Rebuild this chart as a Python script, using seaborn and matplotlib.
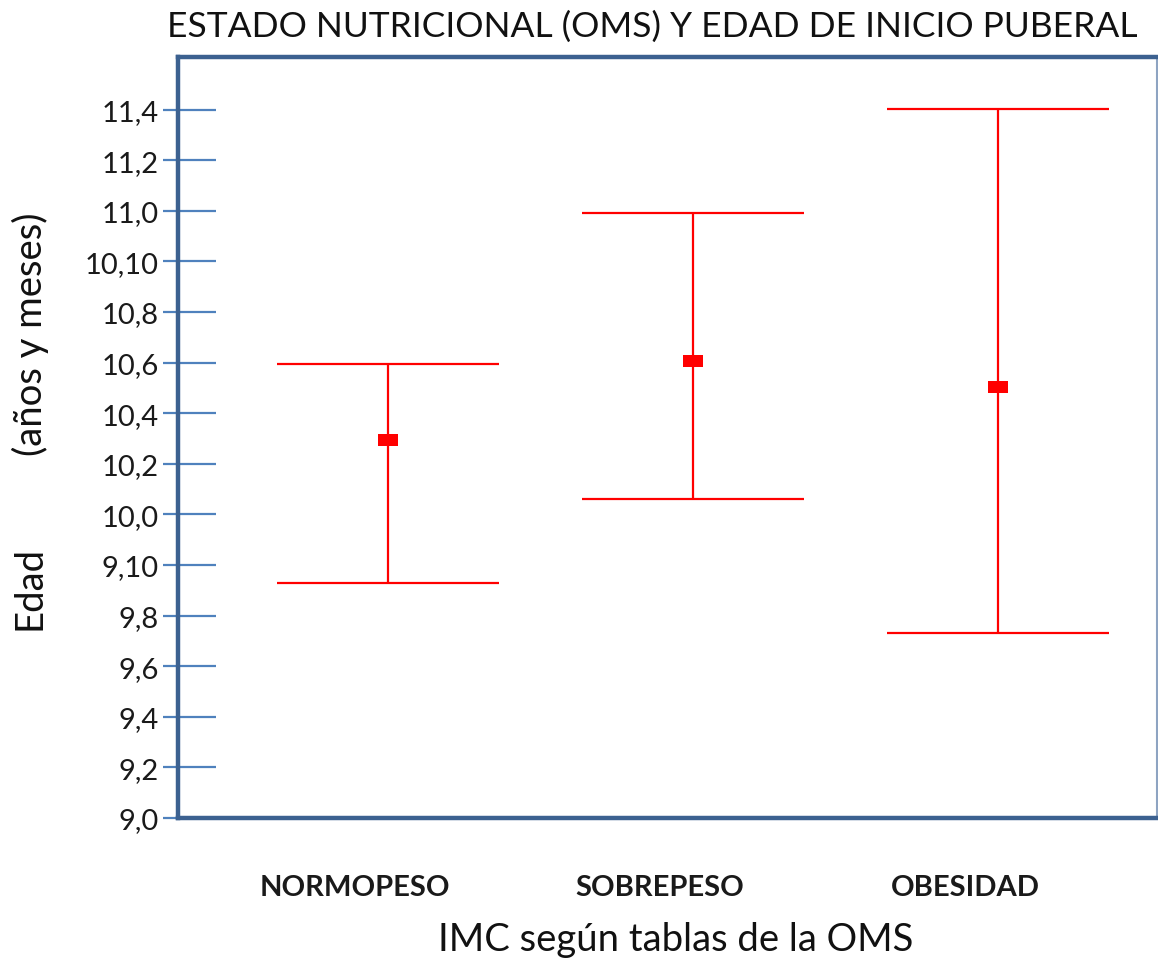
import numpy as np
import pandas as pd
import matplotlib
matplotlib.use('Agg')
import matplotlib.pyplot as plt
import matplotlib.transforms as mtransforms
import seaborn as sns

# datos (edad en años decimales)
categorias = ['NORMOPESO', 'SOBREPESO', 'OBESIDAD']
media = [10.245, 10.505, 10.421]
limite_inf = [9.773, 10.050, 9.609]
limite_sup = [10.494, 10.993, 11.336]
# etiquetas del eje y: "años,meses" cada 2 meses
etiquetas_y = ['9,0', '9,2', '9,4', '9,6', '9,8', '9,10',
               '10,0', '10,2', '10,4', '10,6', '10,8', '10,10',
               '11,0', '11,2', '11,4']

df = pd.DataFrame({'imc': categorias, 'edad': media,
                   'inf': limite_inf, 'sup': limite_sup})
df['x'] = np.arange(len(df))

sns.set_style('white')
plt.rcParams['font.family'] = ['Lato', 'DejaVu Sans']

fig = plt.figure(figsize=(11.58, 9.62), dpi=100)
ax = fig.add_axes([178 / 1158, 143 / 962, 979 / 1158, 761 / 962])

rojo = '#FF0000'
ax.errorbar(df['x'], df['edad'],
            yerr=[df['edad'] - df['inf'], df['sup'] - df['edad']],
            fmt='none', ecolor=rojo, elinewidth=1.6, capsize=80, capthick=1.6)
caja = [(-1, -0.65), (1, -0.65), (1, 0.65), (-1, 0.65), (-1, -0.65)]
sns.scatterplot(data=df, x='x', y='edad', marker=caja, s=200, color=rojo,
                edgecolor=rojo, linewidth=0, ax=ax, zorder=5)

ax.set_xlim(-0.689, 2.521)
ax.set_ylim(9.0, 9.0 + 15.04 / 6)

pos_y = 9.0 + np.arange(len(etiquetas_y)) / 6
ax.set_yticks(pos_y)
ax.set_yticklabels(etiquetas_y, fontsize=21, color='#1a1a1a')
ax.set_yticks(pos_y, minor=True)
ax.yaxis.remove_overlapping_locs = False
ax.tick_params(axis='y', which='major', left=True, direction='in', length=27,
               width=1.6, color='#4F81BD', pad=14)
ax.tick_params(axis='y', which='minor', left=True, direction='out', length=11,
               width=1.6, color='#4F81BD')

ax.set_xticks(df['x'])
ax.set_xticklabels(categorias, fontsize=21, fontweight='bold', color='#1a1a1a')
ax.tick_params(axis='x', bottom=False, length=0, pad=40)
desplaz = mtransforms.ScaledTranslation(-0.33, 0, fig.dpi_scale_trans)
for lbl in ax.get_xticklabels():
    lbl.set_transform(lbl.get_transform() + desplaz)
ax.set_xlabel('')
ax.set_ylabel('')

for lado in ['left', 'top', 'bottom']:
    ax.spines[lado].set_color('#3C6190')
    ax.spines[lado].set_linewidth(3.2)
ax.spines['right'].set_color('#8EA4C2')
ax.spines['right'].set_linewidth(1.5)

fig.text(652 / 1158, 1 - 27 / 962, 'ESTADO NUTRICIONAL (OMS) Y EDAD DE INICIO PUBERAL',
         ha='center', va='center', fontsize=25.5, color='#111111')
fig.text(676 / 1158, 1 - 940 / 962, 'IMC según tablas de la OMS',
         ha='center', va='center', fontsize=27.5, color='#111111')
fig.text(30 / 1158, 1 - 588 / 962, 'Edad', rotation=90,
         ha='center', va='center', fontsize=27.5, color='#111111')
fig.text(30 / 1158, 1 - 334 / 962, '(años y meses)', rotation=90,
         ha='center', va='center', fontsize=27.5, color='#111111')

fig.savefig('out.png', dpi=100)
